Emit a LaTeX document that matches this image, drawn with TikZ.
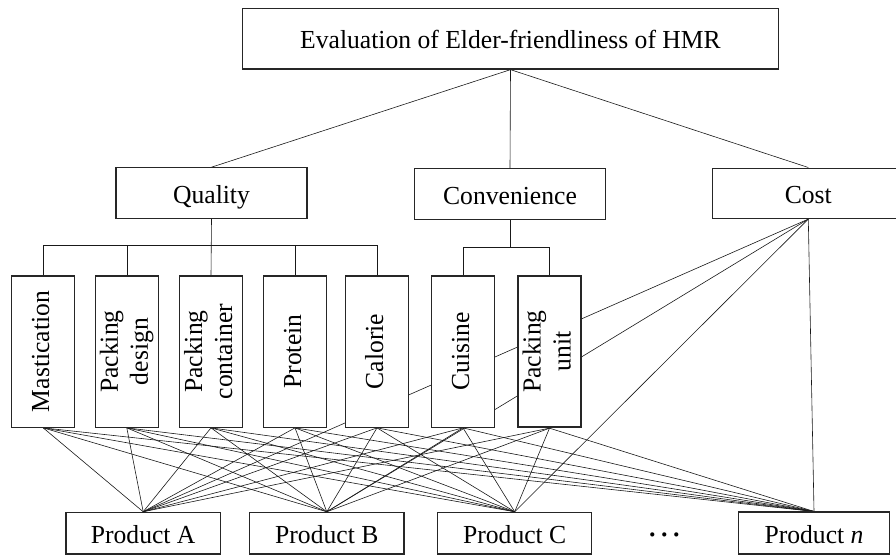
\documentclass[tikz,border=0pt]{standalone}
\usepackage{fontspec}
\usepackage{graphicx}
\setmainfont{Liberation Serif}[FakeStretch=0.985]
\usetikzlibrary{backgrounds}
\tikzset{
  box/.style={draw=black!85, line width=1.2pt, fill=white, inner sep=0pt, align=center,
    font=\fontsize{26}{30}\selectfont},
  hbox/.style={box, text height=25pt, text depth=5pt},
  topbox/.style={hbox, minimum width=535.6pt, minimum height=60.7pt},
  midbox/.style={hbox, minimum width=191pt, minimum height=50.4pt},
  leafbox/.style={box, minimum width=63pt, minimum height=151.3pt},
  prodbox/.style={hbox, minimum width=154.3pt, minimum height=41.7pt},
  thickbox/.style={line width=1.8pt},
  link/.style={draw=black!90, line width=0.6pt},
}
\newcommand{\vtext}[1]{\rotatebox{90}{\begin{tabular}{@{}c@{}}#1\end{tabular}}}
\begin{document}
\begin{tikzpicture}[x=1pt,y=-1pt]
\useasboundingbox (0,0) rectangle (896,555);
% top
\node[topbox] (E) at (510.5,38.7) {Evaluation of Elder-friendliness of HMR};
% middle
\node[midbox] (Q) at (211.5,193) {Quality};
\node[midbox] (V) at (510,194) {Convenience};
\node[midbox] (K) at (808.3,193.3) {Cost};
% leaves
\node[leafbox] (M)  at (43.2,351.6)  {\vtext{Mastication}};
\node[leafbox] (PD) at (126.8,351.6) {\vtext{Packing\\design}};
\node[leafbox] (PC) at (211,351.6)   {\vtext{Packing\\container}};
\node[leafbox] (P)  at (295,351.6)   {\vtext{Protein}};
\node[leafbox] (Ca) at (377,351.6)   {\vtext{Calorie}};
\node[leafbox] (Cu) at (463,351.6)   {\vtext{Cuisine}};
\node[leafbox, thickbox] (PU) at (549.5,351.6) {\vtext{Packing\\unit}};
% products
\node[prodbox] (A) at (143.2,533.2) {Product A};
\node[prodbox] (B) at (326.8,533.2) {Product B};
\node[prodbox] (C) at (514.7,533.2) {Product C};
\node[prodbox, thickbox, minimum width=151pt] (N) at (814,533.2) {Product \textit{n}};
\node[font=\fontsize{26}{30}\selectfont\bfseries, inner sep=0pt, anchor=base] (dots) at (664.5,543)
  {\textperiodcentered\hspace{3.5pt}\textperiodcentered\hspace{3.5pt}\textperiodcentered};
\coordinate (qb) at (0,245);
\coordinate (vb) at (0,247.7);
\begin{scope}[on background layer]
  \draw[link] (E.south) -- (Q.north);
  \draw[link] (E.south) -- (V.north);
  \draw[link] (E.south) -- (K.north);
  % quality bar
  \draw[link] (Q.south) -- (PC.north);
  \draw[link] (M.north) -- (M.north |- qb) -- (Ca.north |- qb) -- (Ca.north);
  \draw[link] (PD.north) -- (PD.north |- qb);
  \draw[link] (P.north) -- (P.north |- qb);
  % convenience bar
  \draw[link] (V.south) -- (V.south |- vb);
  \draw[link] (Cu.north) -- (Cu.north |- vb) -- (PU.north |- vb) -- (PU.north);
  % leaves and cost to products
  \foreach \s in {M,PD,PC,P,Ca,Cu,PU,K}{
    \foreach \t in {A,B,C,N}{
      \draw[link] (\s.south) -- (\t.north);
    }
  }
\end{scope}
\end{tikzpicture}
\end{document}
